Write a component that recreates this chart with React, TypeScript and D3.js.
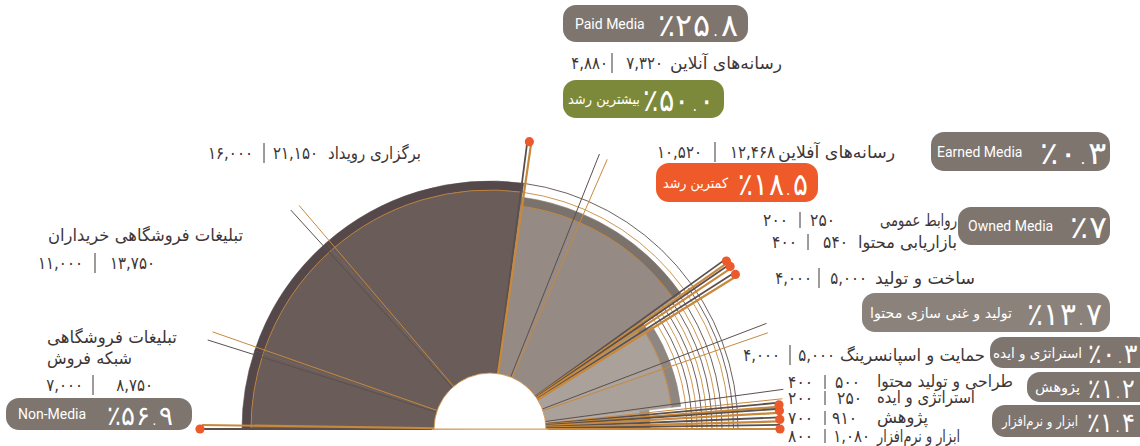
import React from "react";
import * as d3 from "d3";

// ---------------- data ----------------
const itemLabels = [
  "تبلیغات فروشگاهی شبکه فروش",
  "تبلیغات فروشگاهی خریداران",
  "برگزاری رویداد",
  "رسانه‌های آنلاین",
  "رسانه‌های آفلاین",
  "روابط عمومی",
  "بازاریابی محتوا",
  "ساخت و تولید",
  "حمایت و اسپانسرینگ",
  "طراحی و تولید محتوا",
  "استراتژی و ایده",
  "پژوهش",
  "ابزار و نرم‌افزار",
];
const newBudget = [8750, 13750, 21150, 7320, 12468, 250, 540, 5000, 5000, 500, 250, 910, 1080];
const oldBudget = [7000, 11000, 16000, 4880, 10520, 200, 400, 4000, 4000, 400, 200, 700, 800];
// angular share of the half disc each slice takes in the picture (degrees)
const sweepDeg = [18.4, 30.2, 49.2, 14.8, 32.0, 1.3, 1.9, 12.2, 13.2, 2.0, 1.2, 1.7, 1.9];
const itemTier = [0, 0, 0, 1, 1, 2, 2, 3, 3, 4, 4, 4, 4];

const groupNames = [
  "Non-Media",
  "Paid Media",
  "Earned Media",
  "Owned Media",
  "تولید و غنی سازی محتوا",
  "استراتژی و ایده",
  "پژوهش",
  "ابزار و نرم‌افزار",
];
const groupShares = ["٪۵۶.۹", "٪۲۵.۸", "٪۰.۳", "٪۷", "٪۱۳.۷", "٪۰.۳", "٪۱.۲", "٪۱.۴"];
const groupFirstItem = [0, 3, 5, 6, 7, 10, 11, 12];
const growthTags = ["بیشترین رشد", "کمترین رشد"];

// ---------------- helpers ----------------
const FA_DIGITS = "۰۱۲۳۴۵۶۷۸۹";
const fa = (s: string) => s.replace(/\d/g, (d) => FA_DIGITS[+d]);
const fmtNum = (v: number) => fa(d3.format(",")(v));
const numWidth = (s: string) => {
  const digits = (s.match(/[۰-۹]/g) || []).length;
  const commas = (s.match(/,/g) || []).length;
  return digits * 8.3 + commas * 3.5;
};

const FONT_FA = "'DejaVu Sans', sans-serif";
const FONT_LAT = "Roboto, 'DejaVu Sans', sans-serif";

export default function App() {
  const CX = 490, CY = 429, HOLE = 56, RING = 9;
  const tierOuter = [248, 234, 186, 192, 160];
  const tierFill = ["#6a5c59", "#958a84", "#a39a94", "#aaa19b", "#b4aca6"];
  const tierRing = ["#54484a", "#7c726c", "#8b837d", "#8e8680", "#9c948e"];
  const TAN = "#c8893c", GRAY = "#5b504d", DOT = "#ec5a2b", INK = "#3e3636";
  const deg = Math.PI / 180;

  const pie = d3
    .pie<number>()
    .sort(null)
    .value((d) => d)
    .startAngle(-Math.PI / 2)
    .endAngle(Math.PI / 2);
  const slices = pie(sweepDeg);
  const arc = d3.arc<any>();
  const bounds = slices.map((s) => s.startAngle).concat([Math.PI / 2]);
  const dotSet = new Set<number>([...groupFirstItem, slices.length]);

  const circ = (r: number, a0: number, a1: number) => {
    const p = d3.path();
    const s0 = a0 - Math.PI / 2, s1 = a1 - Math.PI / 2;
    p.moveTo(r * Math.cos(s0), r * Math.sin(s0));
    p.arc(0, 0, r, s0, s1);
    return p.toString();
  };

  // decorative concentric guide arcs
  const guideTop = [
    { r: 239, c: TAN },
    { r: 248, c: GRAY },
  ];
  const guideLow = [197, 202, 207, 212, 217, 222, 227, 232, 243.5].map((r, k) => ({
    r,
    c: k === 8 ? GRAY : k % 2 === 0 ? TAN : GRAY,
  }));

  // growth
  const growth = newBudget.map((v, i) => v / oldBudget[i] - 1);
  const hiIdx = d3.maxIndex(growth);
  const loIdx = d3.minIndex(growth);
  const gText = (g: number) => "٪" + fa(d3.format(".1f")(g * 100));

  // label layout (positions only)
  type Line = { t: string; x: number; y: number; a: "start" | "end"; w: number };
  const w0 = itemLabels[0].split(" ");
  const rowLayout: { lines: Line[]; ny: number; nx: number; ox: number; bar: number; bh: number }[] = [
    { lines: [
        { t: w0.slice(0, 2).join(" "), x: 47, y: 337, a: "start", w: 130 },
        { t: w0.slice(2).join(" "), x: 47, y: 358, a: "start", w: 85 },
      ], ny: 385, nx: 153, ox: 83, bar: 93, bh: 20 },
    { lines: [{ t: itemLabels[1], x: 48, y: 235, a: "start", w: 195 }], ny: 263, nx: 155, ox: 83, bar: 95, bh: 20 },
    { lines: [{ t: itemLabels[2], x: 421, y: 153, a: "end", w: 93 }], ny: 153, nx: 318, ox: 253, bar: 264, bh: 20 },
    { lines: [{ t: itemLabels[3], x: 782, y: 63, a: "end", w: 112 }], ny: 63, nx: 663, ox: 608, bar: 612, bh: 20 },
    { lines: [{ t: itemLabels[4], x: 895, y: 152, a: "end", w: 117 }], ny: 152, nx: 775, ox: 702, bar: 715, bh: 20 },
    { lines: [{ t: itemLabels[5], x: 957, y: 220, a: "end", w: 77 }], ny: 220, nx: 835, ox: 788, bar: 800, bh: 16 },
    { lines: [{ t: itemLabels[6], x: 957, y: 242, a: "end", w: 99 }], ny: 242, nx: 848, ox: 797, bar: 808, bh: 16 },
    { lines: [{ t: itemLabels[7], x: 975, y: 278, a: "end", w: 100 }], ny: 278, nx: 867, ox: 812, bar: 819, bh: 20 },
    { lines: [{ t: itemLabels[8], x: 985, y: 355, a: "end", w: 145 }], ny: 355, nx: 835, ox: 780, bar: 790, bh: 20 },
    { lines: [{ t: itemLabels[9], x: 877, y: 381, a: "start", w: 136 }], ny: 382, nx: 860, ox: 813, bar: 825, bh: 14 },
    { lines: [{ t: itemLabels[10], x: 877, y: 397, a: "start", w: 98 }], ny: 398, nx: 862, ox: 813, bar: 825, bh: 14 },
    { lines: [{ t: itemLabels[11], x: 877, y: 417, a: "start", w: 51 }], ny: 418, nx: 857, ox: 813, bar: 825, bh: 14 },
    { lines: [{ t: itemLabels[12], x: 877, y: 436, a: "start", w: 83 }], ny: 436, nx: 870, ox: 813, bar: 825, bh: 14 },
  ];

  const boxLayout = [
    { x: 6, y: 398, w: 186, h: 32, lx: 18, lw: 72, sx: 107, sw: 66, fs: 27, fill: "#7e756e" },
    { x: 563, y: 5, w: 185, h: 37, lx: 575, lw: 72, sx: 658, sw: 80, fs: 31, fill: "#7e756e" },
    { x: 931, y: 132, w: 179, h: 39, lx: 937, lw: 91, sx: 1040, sw: 67, fs: 31, fill: "#7e756e" },
    { x: 958, y: 207, w: 152, h: 38, lx: 968, lw: 89, sx: 1070, sw: 37, fs: 31, fill: "#7e756e" },
    { x: 862, y: 293, w: 248, h: 39, lx: 870, lw: 142, sx: 1027, sw: 75, fs: 31, fill: "#8b827b" },
    { x: 990, y: 337, w: 160, h: 31, lx: 993, lw: 89, sx: 1088, sw: 50, fs: 27, fill: "#7e756e" },
    { x: 1027, y: 372, w: 130, h: 30, lx: 1035, lw: 45, sx: 1088, sw: 47, fs: 27, fill: "#7e756e" },
    { x: 992, y: 405, w: 160, h: 32, lx: 1002, lw: 76, sx: 1087, sw: 48, fs: 27, fill: "#7e756e" },
  ];
  const growthLayout = [
    { x: 563, y: 80, w: 161, h: 38, lx: 568, lw: 72, sx: 643, sw: 72, fill: "#7d893a", idx: hiIdx },
    { x: 656, y: 163, w: 162, h: 39, lx: 663, lw: 65, sx: 738, sw: 70, fill: "#ef5a2a", idx: loIdx },
  ];

  return (
    <svg
      width={1140}
      height={446}
      style={{ position: "absolute", left: 0, top: 0, background: "#fff" }}
    >
      <g transform={`translate(${CX},${CY})`}>
        {/* guide arcs */}
        {guideTop.map((g, k) => (
          <path key={"gt" + k} d={circ(g.r, bounds[3], Math.PI / 2)} fill="none" stroke={g.c} strokeWidth={0.9} />
        ))}
        {guideLow.map((g, k) => (
          <path key={"gl" + k} d={circ(g.r, bounds[5], Math.PI / 2)} fill="none" stroke={g.c} strokeWidth={0.9} />
        ))}

        {/* wedges */}
        {slices.map((s, i) => {
          const R = tierOuter[itemTier[i]];
          return (
            <g key={"w" + i}>
              <path
                d={arc({ innerRadius: 0, outerRadius: R - RING, startAngle: s.startAngle, endAngle: s.endAngle })!}
                fill={tierFill[itemTier[i]]}
                stroke={tierFill[itemTier[i]]}
                strokeWidth={0.6}
              />
              <path
                d={arc({ innerRadius: R - RING, outerRadius: R, startAngle: s.startAngle, endAngle: s.endAngle })!}
                fill={tierRing[itemTier[i]]}
                stroke={tierRing[itemTier[i]]}
                strokeWidth={0.6}
              />
              <path d={circ(R - RING, s.startAngle, s.endAngle)} fill="none" stroke={TAN} strokeWidth={0.9} />
            </g>
          );
        })}

        {/* boundary lines */}
        {bounds.map((a, k) => {
          const isDot = dotSet.has(k);
          const d = (isDot ? 0.8 : 1.8) * deg;
          const lo = -Math.PI / 2, hi = Math.PI / 2;
          let ag = a - d / 2, at = a + d / 2;
          if (ag < lo) { ag = lo; at = lo + d; }
          if (at > hi) { at = hi; ag = hi - d; }
          const len = isDot ? 290 : 296;
          const pg = d3.pointRadial(ag, len);
          const pt = d3.pointRadial(at, len - 2);
          return (
            <g key={"b" + k}>
              <line x1={0} y1={0} x2={pg[0]} y2={pg[1]} stroke={GRAY} strokeWidth={isDot ? 1.8 : 1} />
              <line x1={0} y1={0} x2={pt[0]} y2={pt[1]} stroke={TAN} strokeWidth={isDot ? 2.2 : 1} />
            </g>
          );
        })}
        {bounds.map((a, k) => {
          if (!dotSet.has(k)) return null;
          const p = d3.pointRadial(a, 290);
          return <circle key={"d" + k} cx={p[0]} cy={p[1]} r={4.6} fill={DOT} />;
        })}

        {/* hole */}
        <path
          d={arc({ innerRadius: 0, outerRadius: HOLE, startAngle: -Math.PI / 2, endAngle: Math.PI / 2 })!}
          fill="#fff"
          stroke={TAN}
          strokeWidth={0.8}
        />
        <rect x={-HOLE - 2} y={0.6} width={2 * HOLE + 4} height={3} fill="#fff" />
      </g>

      {/* item labels */}
      {rowLayout.map((L, i) => {
        const nv = fmtNum(newBudget[i]);
        const ov = fmtNum(oldBudget[i]);
        return (
          <g key={"r" + i} fill={INK}>
            {L.lines.map((ln, j) => (
              <text
                key={j}
                x={ln.x}
                y={ln.y}
                textAnchor={ln.a}
                dominantBaseline="central"
                fontFamily={FONT_FA}
                fontSize={17}
                textLength={ln.w}
                lengthAdjust="spacingAndGlyphs"
              >
                {ln.t}
              </text>
            ))}
            <text x={L.nx} y={L.ny} textAnchor="end" dominantBaseline="central" fontFamily={FONT_FA} fontSize={17}
              textLength={numWidth(nv)} lengthAdjust="spacingAndGlyphs">{nv}</text>
            <line x1={L.bar} x2={L.bar} y1={L.ny - L.bh / 2} y2={L.ny + L.bh / 2} stroke={INK} strokeWidth={1} />
            <text x={L.ox} y={L.ny} textAnchor="end" dominantBaseline="central" fontFamily={FONT_FA} fontSize={17}
              textLength={numWidth(ov)} lengthAdjust="spacingAndGlyphs">{ov}</text>
          </g>
        );
      })}

      {/* group boxes */}
      {boxLayout.map((b, g) => {
        const latin = /^[A-Za-z]/.test(groupNames[g]);
        const cy = b.y + b.h / 2;
        return (
          <g key={"g" + g}>
            <rect x={b.x} y={b.y} width={b.w} height={b.h} rx={13} fill={b.fill} />
            {latin ? (
              <text x={b.lx} y={cy} dominantBaseline="central" fontFamily={FONT_LAT} fontSize={14} fill="#fff">
                {groupNames[g]}
              </text>
            ) : (
              <text x={b.lx} y={cy} dominantBaseline="central" fontFamily={FONT_FA} fontSize={14} fill="#fff"
                textLength={b.lw} lengthAdjust="spacingAndGlyphs">
                {groupNames[g]}
              </text>
            )}
            <text x={b.sx} y={cy + 1} dominantBaseline="central" fontFamily={FONT_FA} fontSize={b.fs} fontWeight={300}
              fill="#fff" textLength={b.sw} lengthAdjust="spacingAndGlyphs">
              {groupShares[g]}
            </text>
          </g>
        );
      })}

      {/* growth boxes */}
      {growthLayout.map((b, k) => {
        const cy = b.y + b.h / 2;
        return (
          <g key={"gr" + k}>
            <rect x={b.x} y={b.y} width={b.w} height={b.h} rx={13} fill={b.fill} />
            <text x={b.lx} y={cy} dominantBaseline="central" fontFamily={FONT_FA} fontSize={14} fill="#fff"
              textLength={b.lw} lengthAdjust="spacingAndGlyphs">
              {growthTags[k]}
            </text>
            <text x={b.sx} y={cy + 1} dominantBaseline="central" fontFamily={FONT_FA} fontSize={31} fontWeight={300}
              fill="#fff" textLength={b.sw} lengthAdjust="spacingAndGlyphs">
              {gText(growth[b.idx])}
            </text>
          </g>
        );
      })}
    </svg>
  );
}
